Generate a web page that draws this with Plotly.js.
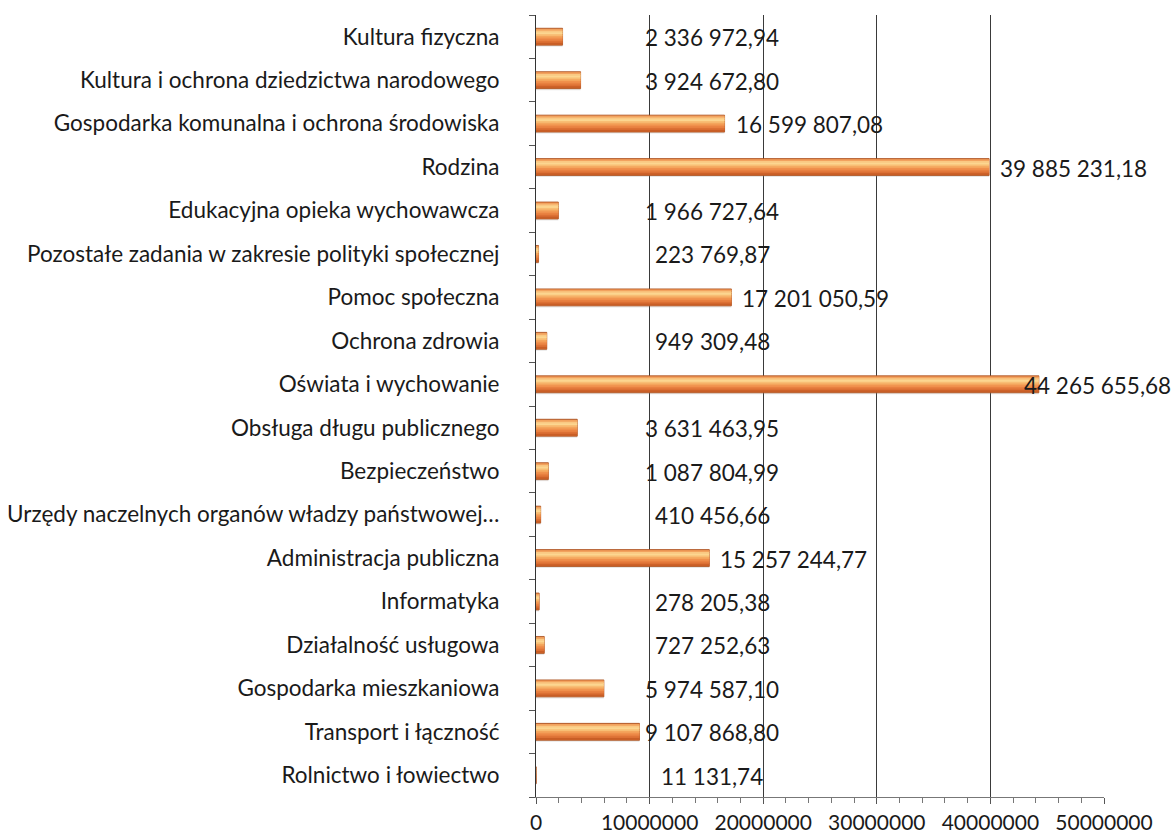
<!DOCTYPE html>
<html><head><meta charset="utf-8">
<script src="https://cdn.plot.ly/plotly-3.0.1.min.js"></script>
<style>html,body{margin:0;padding:0;background:#fff}#chart{width:1176px;height:837px}</style>
</head><body><div id="chart"></div>
<script>
const categories = [
  "Rolnictwo i łowiectwo",
  "Transport i łączność",
  "Gospodarka mieszkaniowa",
  "Działalność usługowa",
  "Informatyka",
  "Administracja publiczna",
  "Urzędy naczelnych organów władzy państwowej…",
  "Bezpieczeństwo",
  "Obsługa długu publicznego",
  "Oświata i wychowanie",
  "Ochrona zdrowia",
  "Pomoc społeczna",
  "Pozostałe zadania w zakresie polityki społecznej",
  "Edukacyjna opieka wychowawcza",
  "Rodzina",
  "Gospodarka komunalna i ochrona środowiska",
  "Kultura i ochrona dziedzictwa narodowego",
  "Kultura fizyczna"
];
const values = [
  11131.74, 9107868.80, 5974587.10, 727252.63, 278205.38, 15257244.77,
  410456.66, 1087804.99, 3631463.95, 44265655.68, 949309.48, 17201050.59,
  223769.87, 1966727.64, 39885231.18, 16599807.08, 3924672.80, 2336972.94
];
const valueLabels = [
  "11 131,74", "9 107 868,80", "5 974 587,10", "727 252,63", "278 205,38", "15 257 244,77",
  "410 456,66", "1 087 804,99", "3 631 463,95", "44 265 655,68", "949 309,48", "17 201 050,59",
  "223 769,87", "1 966 727,64", "39 885 231,18", "16 599 807,08", "3 924 672,80", "2 336 972,94"
];
const xTicks = [0, 10000000, 20000000, 30000000, 40000000, 50000000];
const xTickText = ["0", "10000000", "20000000", "30000000", "40000000", "50000000"];

const FONT = "Lato, 'Open Sans', sans-serif";

// bar shading bands, bottom to top
const bandColors = ['#C95E26', '#DC7034', '#E88040', '#F0904C', '#F4A55C', '#F8BE74', '#FCD690', '#FAC983', '#F2A25E'];
const barW = 0.39;

function barLayer(width, offset, color, line) {
  return {
    type: 'bar', orientation: 'h', y: categories, x: values,
    width: width, offset: offset,
    marker: {color: color, line: line || {width: 0}},
    hoverinfo: 'skip', showlegend: false
  };
}
const traces = [barLayer(barW, -barW / 2 - 0.035, 'rgba(150,150,150,0.22)')];
traces.push(barLayer(barW, -barW / 2, '#D56A2E', {color: '#A9521F', width: 0.8}));
const inner = barW - 0.03;
const step = inner / bandColors.length;
bandColors.forEach((col, k) => {
  const off = -inner / 2 + k * step;
  const w = (k === bandColors.length - 1) ? step : step * 1.6;
  traces.push(barLayer(w, off, col));
});

const annotations = categories.map((c, i) => {
  const small = values[i] < 9500000;
  return {
    x: small ? 15500000 : Math.min(values[i], 42000000),
    y: c, xref: 'x', yref: 'y',
    text: valueLabels[i], showarrow: false,
    xanchor: small ? 'center' : 'left', yanchor: 'middle',
    xshift: small ? 0 : 9, yshift: -1,
    font: {family: FONT, size: 22.5, color: '#1a1a1a'}
  };
});

const layout = {
  width: 1176, height: 837,
  margin: {l: 536, r: 72, t: 15, b: 40},
  paper_bgcolor: '#fff', plot_bgcolor: '#fff',
  barmode: 'overlay',
  font: {family: FONT, size: 22, color: '#1a1a1a'},
  xaxis: {
    range: [0, 50000000], tickvals: xTicks, ticktext: xTickText,
    showgrid: true, gridcolor: '#3a3a3a', gridwidth: 1,
    zeroline: false, showline: true, linecolor: '#777', linewidth: 1,
    ticks: 'outside', ticklen: 6, tickcolor: '#555',
    minor: {dtick: 2000000, ticks: 'outside', ticklen: 5, tickcolor: '#777', showgrid: false},
    ticklabelstandoff: 1,
    tickfont: {family: FONT, size: 21, color: '#1a1a1a'},
    fixedrange: true
  },
  yaxis: {
    type: 'category', categoryorder: 'array', categoryarray: categories,
    showgrid: false, zeroline: false, showline: true, linecolor: '#333', linewidth: 1,
    ticks: 'outside', tickson: 'boundaries', ticklen: 6, tickcolor: '#555',
    ticklabelstandoff: 31,
    tickfont: {family: FONT, size: 22.5, color: '#1a1a1a'},
    fixedrange: true
  },
  annotations: annotations
};

Plotly.newPlot('chart', traces, layout, {displayModeBar: false, staticPlot: true});
</script>
</body></html>
